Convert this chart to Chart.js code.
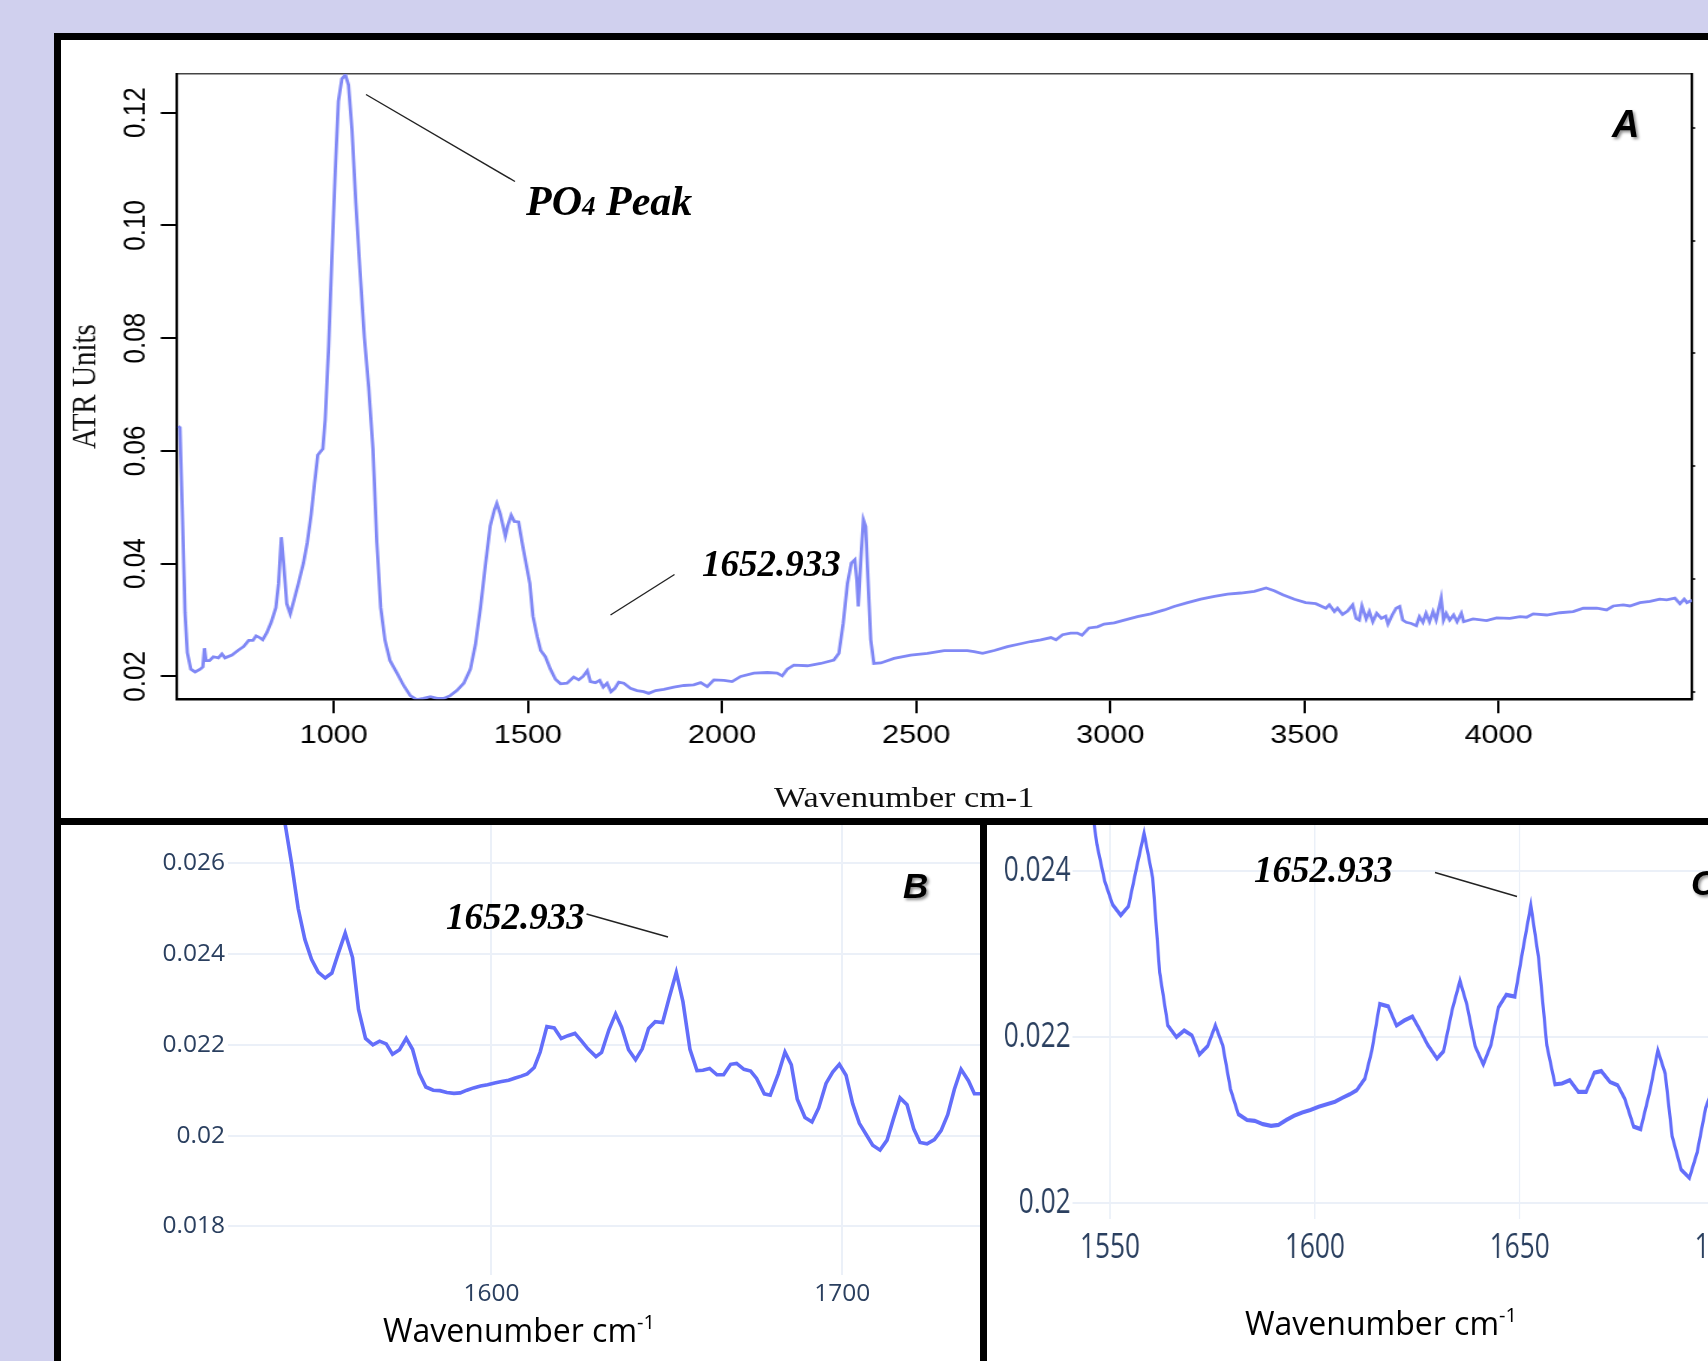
<!DOCTYPE html>
<html>
<head>
<meta charset="utf-8">
<script src="https://cdn.jsdelivr.net/npm/chart.js@4.4.1/dist/chart.umd.min.js"></script>
<style>
  html, body { margin: 0; padding: 0; }
  body { width: 1708px; height: 1361px; overflow: hidden; position: relative; background: #d0d0ee; }
  .panel { position: absolute; border: 7px solid #000; background: #fff; overflow: hidden; }
  #panelA { left: 54px; top: 33px; width: 1800px; height: 778px; }
  #panelB { left: 54px; top: 818px; width: 919px; height: 600px; }
  #panelC { left: 980px; top: 818px; width: 900px; height: 600px; }
  .wrap { position: absolute; left: 0; top: 0; transform-origin: 0 0; }
  #wrapA { width: 1396px; height: 778px; transform: scaleX(1.18); }
  #wrapB { width: 919px; height: 536px; }
  #wrapC { width: 1084px; height: 536px; transform: scaleX(0.75); }
  #titleA { position: absolute; left: 0; width: 1429px; top: 742px; text-align: center;
            font: 29px/30px "Liberation Serif", serif; color: #111; white-space: nowrap; }
  #notes { position: absolute; left: 0; top: 0; pointer-events: none; }
</style>
</head>
<body>

<div class="panel" id="panelA">
  <div class="wrap" id="wrapA">
    <canvas id="chartA" width="1396" height="778"></canvas>
    <div id="titleA">Wavenumber cm-1</div>
  </div>
</div>
<div class="panel" id="panelB">
  <div class="wrap" id="wrapB"><canvas id="chartB" width="919" height="536"></canvas></div>
</div>
<div class="panel" id="panelC">
  <div class="wrap" id="wrapC"><canvas id="chartC" width="1084" height="536"></canvas></div>
</div>

<svg id="notes" width="1708" height="1361">
  <defs>
    <filter id="shadow" x="-30%" y="-30%" width="180%" height="180%">
      <feDropShadow dx="2" dy="2" stdDeviation="1.5" flood-color="#000" flood-opacity="0.45"/>
    </filter>
  </defs>
  <g stroke="#222" stroke-width="1.4">
    <line x1="366" y1="94.5" x2="515" y2="181.5"/>
    <line x1="610.5" y1="615" x2="674.5" y2="574.5"/>
    <line x1="586.5" y1="914" x2="668" y2="937"/>
    <line x1="1435" y1="872.5" x2="1517" y2="896.5"/>
  </g>
  <g font-family="Liberation Serif" font-weight="bold" font-style="italic" fill="#000">
    <text x="526" y="215" font-size="42">PO<tspan font-size="27">4</tspan> Peak</text>
    <text x="702" y="576" font-size="37">1652.933</text>
    <text x="446" y="929" font-size="37">1652.933</text>
    <text x="1254" y="881.5" font-size="37">1652.933</text>
  </g>
  <g font-family="Liberation Sans" font-weight="bold" font-style="italic" fill="#000" filter="url(#shadow)">
    <text x="1612" y="137" font-size="38">A</text>
    <text x="903" y="898" font-size="35">B</text>
    <text x="1691" y="895" font-size="35">C</text>
  </g>
  <g font-family="Open Sans" fill="#000" font-size="32">
    <text x="383" y="1342">Wavenumber cm<tspan font-size="20" dy="-13">-1</tspan></text>
    <text x="1245" y="1335">Wavenumber cm<tspan font-size="20" dy="-13">-1</tspan></text>
  </g>
</svg>

<script>
// phổ đầy đủ (panel A)
const wnA = [600, 604, 610, 617, 623, 632, 643, 656, 663, 667, 671, 680, 690, 703, 712, 720, 738, 755, 768, 781,
  792, 800, 809, 817, 828, 839, 851, 858, 865, 871, 879, 888, 898, 909, 922, 932, 942, 950, 959, 972,
  978, 987, 995, 1004, 1012, 1021, 1030, 1038, 1047, 1057, 1068, 1079, 1090, 1101, 1111, 1121, 1132, 1145, 1163, 1180,
  1197, 1214, 1231, 1249, 1266, 1283, 1300, 1317, 1335, 1352, 1365, 1378, 1390, 1403, 1414, 1420, 1429, 1442, 1448, 1457,
  1465, 1476, 1485, 1494, 1505, 1513, 1524, 1533, 1545, 1558, 1571, 1584, 1601, 1618, 1631, 1642, 1653, 1661, 1674, 1685,
  1694, 1704, 1714, 1724, 1734, 1747, 1764, 1781, 1798, 1811, 1829, 1850, 1876, 1902, 1927, 1945, 1962, 1979, 2005, 2026,
  2048, 2082, 2117, 2142, 2155, 2168, 2185, 2220, 2254, 2288, 2301, 2312, 2323, 2333, 2342, 2347, 2351, 2357, 2364, 2370,
  2376, 2383, 2391, 2409, 2443, 2486, 2529, 2572, 2597, 2632, 2649, 2671, 2701, 2735, 2769, 2795, 2821, 2847, 2860, 2877,
  2898, 2915, 2927, 2945, 2967, 2984, 3010, 3036, 3070, 3104, 3139, 3164, 3199, 3233, 3268, 3302, 3336, 3371, 3401, 3422,
  3444, 3474, 3503, 3529, 3555, 3564, 3577, 3585, 3598, 3611, 3624, 3633, 3641, 3648, 3659, 3667, 3676, 3686, 3698, 3709,
  3715, 3726, 3736, 3745, 3753, 3762, 3775, 3788, 3796, 3805, 3813, 3822, 3831, 3839, 3846, 3852, 3858, 3865, 3874, 3884,
  3893, 3904, 3910, 3934, 3969, 3995, 4029, 4055, 4072, 4089, 4124, 4158, 4192, 4218, 4253, 4278, 4295, 4321, 4338, 4364,
  4390, 4415, 4433, 4454, 4467, 4478, 4485, 4498];
const absA = [0.0644, 0.0641, 0.0496, 0.0314, 0.0242, 0.0213, 0.0208, 0.0213, 0.0217, 0.0250, 0.0228, 0.0228, 0.0235, 0.0233, 0.0240, 0.0233, 0.0238, 0.0247, 0.0253, 0.0264,
  0.0264, 0.0272, 0.0269, 0.0265, 0.0278, 0.0296, 0.0322, 0.0365, 0.0447, 0.0401, 0.0329, 0.0311, 0.0336, 0.0365, 0.0401, 0.0438, 0.0488, 0.0539, 0.0593, 0.0604,
  0.0655, 0.0786, 0.0938, 0.1097, 0.1220, 0.1260, 0.1267, 0.1249, 0.1170, 0.1039, 0.0916, 0.0800, 0.0713, 0.0604, 0.0438, 0.0322, 0.0264, 0.0228, 0.0206, 0.0184,
  0.0166, 0.0159, 0.0161, 0.0164, 0.0161, 0.0161, 0.0166, 0.0175, 0.0188, 0.0213, 0.0257, 0.0322, 0.0394, 0.0467, 0.0496, 0.0507, 0.0488, 0.0449, 0.0467, 0.0486,
  0.0475, 0.0474, 0.0438, 0.0405, 0.0365, 0.0307, 0.0271, 0.0246, 0.0235, 0.0213, 0.0195, 0.0187, 0.0188, 0.0199, 0.0194, 0.0200, 0.0210, 0.0191, 0.0189, 0.0193,
  0.0181, 0.0188, 0.0173, 0.0179, 0.0190, 0.0188, 0.0179, 0.0175, 0.0173, 0.0170, 0.0175, 0.0177, 0.0181, 0.0184, 0.0185, 0.0189, 0.0182, 0.0194, 0.0193, 0.0191,
  0.0200, 0.0206, 0.0207, 0.0206, 0.0201, 0.0213, 0.0220, 0.0219, 0.0223, 0.0229, 0.0241, 0.0294, 0.0365, 0.0401, 0.0407, 0.0371, 0.0324, 0.0401, 0.0478, 0.0466,
  0.0371, 0.0265, 0.0223, 0.0224, 0.0232, 0.0238, 0.0241, 0.0246, 0.0246, 0.0246, 0.0244, 0.0241, 0.0246, 0.0253, 0.0258, 0.0262, 0.0265, 0.0269, 0.0265, 0.0274,
  0.0277, 0.0277, 0.0273, 0.0286, 0.0288, 0.0293, 0.0295, 0.0300, 0.0306, 0.0311, 0.0318, 0.0324, 0.0331, 0.0337, 0.0342, 0.0346, 0.0348, 0.0351, 0.0357, 0.0352,
  0.0345, 0.0337, 0.0331, 0.0329, 0.0321, 0.0327, 0.0315, 0.0321, 0.0310, 0.0316, 0.0327, 0.0303, 0.0300, 0.0325, 0.0302, 0.0315, 0.0297, 0.0312, 0.0303, 0.0307,
  0.0293, 0.0309, 0.0321, 0.0324, 0.0300, 0.0296, 0.0294, 0.0290, 0.0306, 0.0296, 0.0312, 0.0297, 0.0315, 0.0300, 0.0321, 0.0339, 0.0300, 0.0312, 0.0300, 0.0309,
  0.0297, 0.0312, 0.0297, 0.0302, 0.0299, 0.0304, 0.0303, 0.0306, 0.0305, 0.0311, 0.0309, 0.0313, 0.0315, 0.0321, 0.0321, 0.0318, 0.0325, 0.0327, 0.0325, 0.0331,
  0.0333, 0.0337, 0.0336, 0.0339, 0.0329, 0.0337, 0.0331, 0.0335];

// vùng phóng to quanh 1652.933 (panel B và C)
const wnZoom = [1537.5, 1539.4, 1541.3, 1543.0, 1544.9, 1546.8, 1548.7, 1550.6, 1552.6, 1554.5, 1556.4, 1558.3, 1560.4, 1562.1, 1564.1, 1566.2, 1568.1, 1570.0, 1571.8, 1573.8,
  1575.7, 1577.5, 1579.4, 1581.3, 1583.4, 1585.3, 1587.3, 1589.3, 1591.1, 1593.0, 1594.9, 1596.9, 1598.9, 1600.9, 1602.9, 1604.9, 1606.8, 1608.5, 1610.2, 1612.2,
  1613.9, 1615.8, 1617.9, 1619.9, 1621.8, 1623.8, 1625.6, 1627.5, 1629.8, 1631.4, 1633.5, 1635.4, 1637.1, 1639.1, 1641.1, 1643.0, 1644.8, 1646.7, 1648.8, 1650.7,
  1652.7, 1654.6, 1656.6, 1658.6, 1660.3, 1662.2, 1664.3, 1666.2, 1668.2, 1669.9, 1672.0, 1673.9, 1675.6, 1677.8, 1679.5, 1681.8, 1683.7, 1685.5, 1687.2, 1689.4,
  1691.4, 1693.3, 1695.4, 1697.3, 1699.2, 1701.1, 1703.0, 1704.9, 1706.8, 1708.7, 1710.8, 1712.8, 1714.7, 1716.5, 1718.5, 1720.4, 1722.2, 1724.2, 1726.3, 1728.2,
  1730.1, 1732.0, 1733.9, 1736.0, 1737.7, 1739.4, 1741.3];
const absZoom = [0.0287, 0.0277, 0.0268, 0.0260, 0.0250, 0.02432, 0.02388, 0.0236, 0.02347, 0.02358, 0.02403, 0.02446, 0.02392, 0.02278, 0.02214, 0.0220, 0.02208, 0.02202, 0.02179, 0.02189,
  0.02214, 0.0219, 0.02137, 0.02107, 0.0210, 0.02099, 0.02095, 0.02093, 0.02094, 0.0210, 0.02105, 0.02109, 0.02112, 0.02116, 0.02119, 0.02122, 0.02127, 0.02131, 0.02136, 0.0215,
  0.02184, 0.0224, 0.02237, 0.02214, 0.0222, 0.02225, 0.02209, 0.02191, 0.02174, 0.02183, 0.02233, 0.02268, 0.02239, 0.02189, 0.02167, 0.02191, 0.02236, 0.02251, 0.02249, 0.02304,
  0.02359, 0.02295, 0.0219, 0.02143, 0.02144, 0.02148, 0.02134, 0.02134, 0.02157, 0.02159, 0.02146, 0.02142, 0.02126, 0.02092, 0.02089, 0.02136, 0.02184, 0.02156, 0.0208, 0.0204,
  0.0203, 0.02061, 0.02115, 0.0214, 0.02157, 0.02133, 0.0207, 0.02027, 0.02003, 0.01979, 0.01968, 0.0199, 0.02039, 0.02083, 0.02068, 0.02015, 0.01985, 0.01982, 0.01991, 0.02011,
  0.02046, 0.02102, 0.02146, 0.02121, 0.02092, 0.02092, 0.0209];

// vạch chia trục
const xTicksA = [1000, 1500, 2000, 2500, 3000, 3500, 4000];
const xLabelsA = ['1000', '1500', '2000', '2500', '3000', '3500', '4000'];
const yTicksA = [0.02, 0.04, 0.06, 0.08, 0.10, 0.12];
const yLabelsA = ['0.02', '0.04', '0.06', '0.08', '0.10', '0.12'];
const xTicksB = [1600, 1700];
const xLabelsB = ['1600', '1700'];
const yTicksB = [0.018, 0.02, 0.022, 0.024, 0.026];
const yLabelsB = ['0.018', '0.02', '0.022', '0.024', '0.026'];
const xTicksC = [1550, 1600, 1650, 1700];
const xLabelsC = ['1550', '1600', '1650', '1700'];
const yTicksC = [0.02, 0.022, 0.024];
const yLabelsC = ['0.02', '0.022', '0.024'];

const toPoints = (xs, ys) => xs.map((x, i) => ({ x: x, y: ys[i] }));
const setTicks = (values) => (scale) => { scale.ticks = values.map(v => ({ value: v })); };
const labelOf = (values, labels) => (v) => labels[values.indexOf(v)];
const fixSize = (w, h) => (s) => {
    if (w !== null) s.width = w;
    if (h !== null) s.height = h;
    s.paddingTop = 0; s.paddingBottom = 0; s.paddingLeft = 0; s.paddingRight = 0;
};

const baseOptions = {
    responsive: false,
    animation: false,
    devicePixelRatio: 1,
    events: [],
    plugins: { legend: { display: false }, tooltip: { enabled: false } },
    elements: { point: { radius: 0 }, line: { tension: 0 } }
};

// Panel A: phổ ATR
new Chart(document.getElementById('chartA'), {
    type: 'line',
    data: {
        datasets: [{
            data: toPoints(wnA, absA),
            borderColor: '#8088f5',
            borderWidth: 2.8,
            xAxisID: 'x',
            yAxisID: 'y'
        }]
    },
    options: Object.assign({}, baseOptions, {
        layout: { padding: { top: 34, left: 0, right: 0, bottom: 0 } },
        scales: {
            x: {
                type: 'linear', position: 'bottom', min: 597, max: 4498,
                afterBuildTicks: setTicks(xTicksA),
                afterFit: fixSize(null, 118.7),
                grid: { drawOnChartArea: false, drawTicks: true, tickLength: 14, color: '#000', lineWidth: 2 },
                border: { display: true, color: '#000', width: 2.5 },
                ticks: {
                    font: { family: 'Liberation Sans', size: 26 }, color: '#000', padding: 7,
                    maxRotation: 0, autoSkip: false, callback: labelOf(xTicksA, xLabelsA)
                }
            },
            xTop: {
                type: 'linear', position: 'top', min: 597, max: 4498,
                afterFit: fixSize(null, 0),
                grid: { display: false, drawTicks: false },
                border: { display: true, color: '#444', width: 1.6 },
                ticks: { display: false }
            },
            y: {
                type: 'linear', position: 'left', min: 0.01595, max: 0.12685,
                afterBuildTicks: setTicks(yTicksA),
                afterFit: fixSize(98.5, null),
                grid: { drawOnChartArea: false, drawTicks: true, tickLength: 14, color: '#000', lineWidth: 2 },
                border: { display: true, color: '#000', width: 2.2 },
                ticks: {
                    font: { family: 'Liberation Sans', size: 26 }, color: '#000',
                    minRotation: 90, maxRotation: 90, crossAlign: 'center', padding: -4.4,
                    autoSkip: false, callback: labelOf(yTicksA, yLabelsA)
                },
                title: {
                    display: true, text: 'ATR Units', color: '#111', padding: { top: 7, bottom: 0 },
                    font: { family: 'Liberation Serif', size: 29, lineHeight: 1 }
                }
            },
            yRight: {
                type: 'linear', position: 'right', min: 0.01863, max: 0.12953,
                afterBuildTicks: setTicks(yTicksA),
                afterFit: fixSize(13.8, null),
                grid: { drawOnChartArea: false, drawTicks: true, tickLength: 2.5, color: '#000', lineWidth: 2 },
                border: { display: true, color: '#000', width: 2.2 },
                ticks: { display: false }
            }
        }
    })
});

// Panel B và C: kiểu plotly
const zoomChart = (id, cfg) => new Chart(document.getElementById(id), {
    type: 'line',
    data: {
        datasets: [{
            data: toPoints(wnZoom, absZoom),
            borderColor: '#636efa',
            borderWidth: cfg.lineWidth
        }]
    },
    options: Object.assign({}, baseOptions, {
        layout: { padding: 0 },
        scales: {
            x: {
                type: 'linear', min: cfg.xMin, max: cfg.xMax,
                afterBuildTicks: setTicks(cfg.xTicks),
                afterFit: fixSize(null, cfg.xHeight),
                grid: { color: '#ebf0f8', lineWidth: 2, drawTicks: false },
                border: { display: false },
                ticks: {
                    font: { family: 'Open Sans', size: cfg.fontSize }, color: '#2a3f5f',
                    padding: cfg.xPad, maxRotation: 0, autoSkip: false,
                    callback: labelOf(cfg.xTicks, cfg.xLabels)
                }
            },
            y: {
                type: 'linear', min: cfg.yMin, max: cfg.yMax,
                afterBuildTicks: setTicks(cfg.yTicks),
                afterFit: fixSize(cfg.yWidth, null),
                grid: { color: '#ebf0f8', lineWidth: 2, drawTicks: false },
                border: { display: false },
                ticks: {
                    font: { family: 'Open Sans', size: cfg.fontSize }, color: '#2a3f5f',
                    padding: cfg.yPad, autoSkip: false,
                    callback: labelOf(cfg.yTicks, cfg.yLabels)
                }
            }
        }
    })
});

zoomChart('chartB', {
    xMin: 1524.8, xMax: 1739.3, yMin: 0.01693, yMax: 0.02684,
    xTicks: xTicksB, xLabels: xLabelsB, yTicks: yTicksB, yLabels: yLabelsB,
    xHeight: 86, yWidth: 166.7, fontSize: 24.5, xPad: 4.5, yPad: 2.7, lineWidth: 3.6
});

zoomChart('chartC', {
    xMin: 1540.9, xMax: 1718.4, yMin: 0.01981, yMax: 0.02456,
    xTicks: xTicksC, xLabels: xLabelsC, yTicks: yTicksC, yLabels: yLabelsC,
    xHeight: 142.4, yWidth: 114.4, fontSize: 35, xPad: 8.8, yPad: 3, lineWidth: 4.2
});
</script>
</body>
</html>
